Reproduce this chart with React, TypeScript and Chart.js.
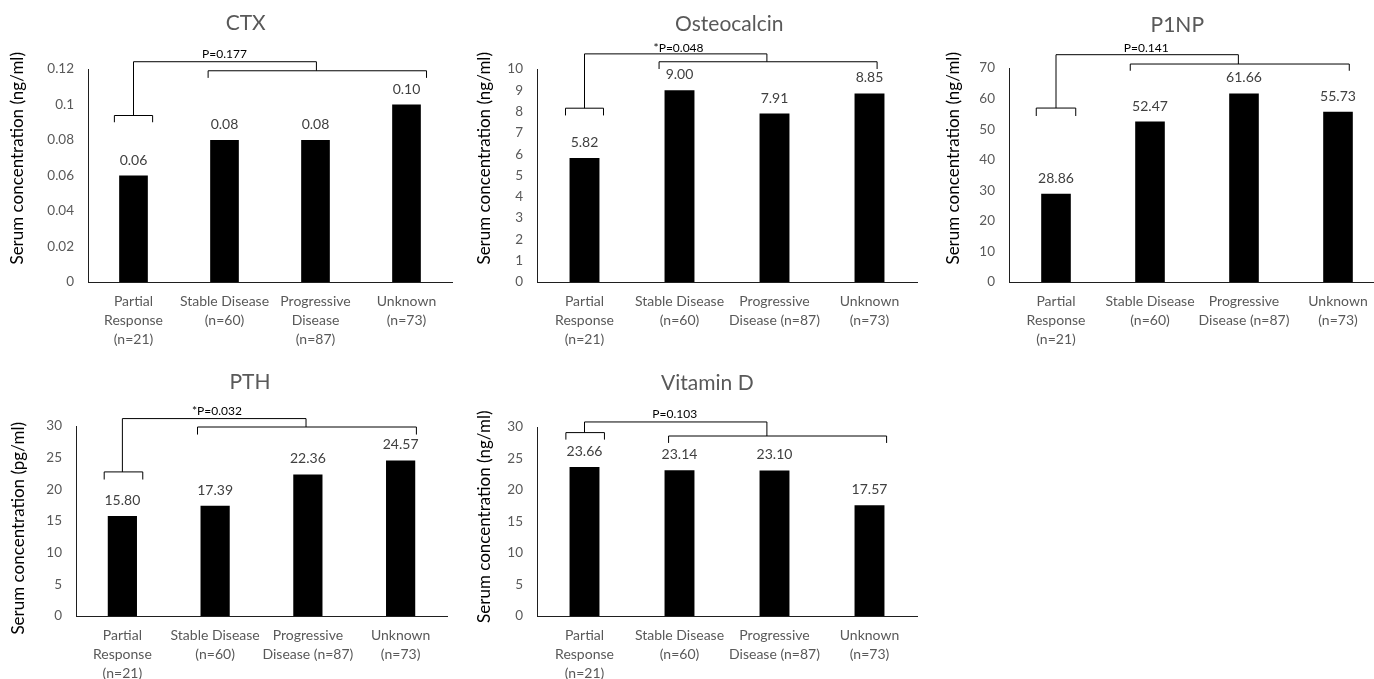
import React, { useEffect, useRef } from "react";
import { Chart, registerables } from "chart.js";

Chart.register(...registerables);

const FONT = "Lato, 'Open Sans', sans-serif";

// ---- categories ----
const categories = [
  ["Partial", "Response", "(n=21)"],
  ["Stable Disease", "(n=60)"],
  ["Progressive", "Disease (n=87)"],
  ["Unknown", "(n=73)"],
];
const categoriesNarrow = [
  ["Partial", "Response", "(n=21)"],
  ["Stable Disease", "(n=60)"],
  ["Progressive", "Disease", "(n=87)"],
  ["Unknown", "(n=73)"],
];

// ---- series values ----
const ctxValues = [0.06, 0.08, 0.08, 0.1];
const osteocalcinValues = [5.82, 9.0, 7.91, 8.85];
const p1npValues = [28.86, 52.47, 61.66, 55.73];
const pthValues = [15.8, 17.39, 22.36, 24.57];
const vitaminDValues = [23.66, 23.14, 23.1, 17.57];

// ---- tick labels ----
const ctxTicks = [0, 0.02, 0.04, 0.06, 0.08, 0.1, 0.12];
const osteocalcinTicks = [0, 1, 2, 3, 4, 5, 6, 7, 8, 9, 10];
const p1npTicks = [0, 10, 20, 30, 40, 50, 60, 70];
const pthTicks = [0, 5, 10, 15, 20, 25, 30];
const vitaminDTicks = [0, 5, 10, 15, 20, 25, 30];

// ---- titles ----
const chartTitles = ["CTX", "Osteocalcin", "P1NP", "PTH", "Vitamin D"];
const axisTitles = [
  "Serum concentration (ng/ml)",
  "Serum concentration (ng/ml)",
  "Serum concentration (ng/ml)",
  "Serum concentration (pg/ml)",
  "Serum concentration (ng/ml)",
];
const pLabels = ["P=0.177", "*P=0.048", "P=0.141", "*P=0.032", "P=0.103"];

// ---- significance brackets (category index units / data units) ----
type Bracket = {
  low: [number, number]; lowY: number; lowTick: number;
  top: number; join: number;
  high: [number, number]; highY: number; highTick: number;
  text: [number, number];
};
const ctxBracket: Bracket = { low: [-0.21, 0.21], lowY: 0.0938, lowTick: 0.09, top: 0.1241, join: 2.01, high: [0.82, 3.22], highY: 0.119, highTick: 0.115, text: [1.0, 0.1285] };
const osteoBracket: Bracket = { low: [-0.2, 0.2], lowY: 8.16, lowTick: 7.82, top: 10.71, join: 1.92, high: [0.785, 3.08], highY: 10.34, highTick: 10.0, text: [0.99, 11.0] };
const p1npBracket: Bracket = { low: [-0.21, 0.21], lowY: 56.9, lowTick: 54.3, top: 74.35, join: 1.94, high: [0.79, 3.12], highY: 71.3, highTick: 69.1, text: [0.96, 76.5] };
const pthBracket: Bracket = { low: [-0.196, 0.22], lowY: 22.75, lowTick: 21.55, top: 31.17, join: 1.98, high: [0.81, 3.17], highY: 29.84, highTick: 28.65, text: [1.02, 32.3] };
const vitDBracket: Bracket = { low: [-0.196, 0.21], lowY: 29.11, lowTick: 28.0, top: 30.8, join: 1.92, high: [0.885, 3.18], highY: 28.57, highTick: 27.47, text: [0.95, 32.0] };

// ---- panel layout (page px) ----
type Panel = {
  canvas: [number, number, number, number];
  plot: [number, number, number, number];
  xAxisH: number;
  title: [number, number];
  axisTitle: [number, number];
};
const panels: Panel[] = [
  { canvas: [0, 0, 460, 356], plot: [88, 69, 452, 282], xAxisH: 70, title: [245.7, 23], axisTitle: [18, 158.3] },
  { canvas: [462, 0, 462, 356], plot: [537, 69, 917, 282], xAxisH: 70, title: [729.3, 24], axisTitle: [485, 158.3] },
  { canvas: [926, 0, 460, 356], plot: [1009, 68, 1385, 282], xAxisH: 70, title: [1177.3, 25], axisTitle: [953.3, 158.3] },
  { canvas: [0, 356, 460, 323], plot: [76, 426, 447, 616], xAxisH: 63, title: [250, 382.3], axisTitle: [18.3, 528.3] },
  { canvas: [462, 356, 462, 323], plot: [537, 427, 917, 616], xAxisH: 63, title: [707.3, 383.3], axisTitle: [485, 516.7] },
];

const specs = [
  { labels: categoriesNarrow, values: ctxValues, ticks: ctxTicks, bracket: ctxBracket },
  { labels: categories, values: osteocalcinValues, ticks: osteocalcinTicks, bracket: osteoBracket },
  { labels: categories, values: p1npValues, ticks: p1npTicks, bracket: p1npBracket },
  { labels: categories, values: pthValues, ticks: pthTicks, bracket: pthBracket },
  { labels: categories, values: vitaminDValues, ticks: vitaminDTicks, bracket: vitDBracket },
];

const Y_AXIS_W = 60;

function PanelChart({ index }: { index: number }) {
  const ref = useRef<HTMLCanvasElement | null>(null);
  const panel = panels[index];
  const spec = specs[index];
  const [cx, cy, cw, ch] = panel.canvas;

  useEffect(() => {
    if (!ref.current) return;
    const [l, t, r, b] = panel.plot;
    const padding = {
      left: l - cx - Y_AXIS_W,
      top: t - cy,
      right: cx + cw - r,
      bottom: Math.max(0, cy + ch - b - panel.xAxisH),
    };

    const annotate = {
      id: "annotate" + index,
      afterDatasetsDraw(chart: any) {
        const c = chart.ctx;
        const xs = chart.scales.x;
        const ys = chart.scales.y;
        const X = (v: number) => xs.getPixelForValue(v);
        const Y = (v: number) => ys.getPixelForValue(v);
        c.save();
        // value labels
        c.fillStyle = "#404040";
        c.font = `14px ${FONT}`;
        c.textAlign = "center";
        c.textBaseline = "alphabetic";
        const meta = chart.getDatasetMeta(0);
        meta.data.forEach((bar: any, i: number) => {
          c.fillText(spec.values[i].toFixed(2), bar.x, bar.y - 11);
        });
        // brackets
        const br = spec.bracket;
        c.strokeStyle = "#000";
        c.lineWidth = 1;
        c.beginPath();
        c.moveTo(X(br.low[0]), Y(br.lowTick));
        c.lineTo(X(br.low[0]), Y(br.lowY));
        c.lineTo(X(br.low[1]), Y(br.lowY));
        c.lineTo(X(br.low[1]), Y(br.lowTick));
        c.moveTo(X(0), Y(br.lowY));
        c.lineTo(X(0), Y(br.top));
        c.lineTo(X(br.join), Y(br.top));
        c.lineTo(X(br.join), Y(br.highY));
        c.moveTo(X(br.high[0]), Y(br.highTick));
        c.lineTo(X(br.high[0]), Y(br.highY));
        c.lineTo(X(br.high[1]), Y(br.highY));
        c.lineTo(X(br.high[1]), Y(br.highTick));
        c.stroke();
        c.fillStyle = "#000";
        c.font = `12px ${FONT}`;
        c.textBaseline = "middle";
        c.fillText(pLabels[index], X(br.text[0]), Y(br.text[1]));
        // chart title
        c.fillStyle = "#595959";
        c.font = `21px ${FONT}`;
        c.fillText(chartTitles[index], panel.title[0] - cx, panel.title[1] - cy);
        // axis title
        c.translate(panel.axisTitle[0] - cx, panel.axisTitle[1] - cy);
        c.rotate(-Math.PI / 2);
        c.fillStyle = "#000";
        c.font = `17px ${FONT}`;
        c.fillText(axisTitles[index], 0, 0);
        c.restore();
      },
    };

    const chart = new Chart(ref.current, {
      type: "bar",
      data: {
        labels: spec.labels as any,
        datasets: [
          {
            data: spec.values,
            backgroundColor: "#000000",
            borderWidth: 0,
            barPercentage: 0.315,
            categoryPercentage: 1,
          },
        ],
      },
      options: {
        responsive: false,
        animation: false,
        devicePixelRatio: 1,
        layout: { padding },
        plugins: {
          legend: { display: false },
          tooltip: { enabled: false },
          title: { display: false },
        },
        scales: {
          x: {
            offset: true,
            grid: { display: false, drawTicks: false },
            border: { display: true, color: "#1f1f1f", width: 1 },
            ticks: {
              color: "#595959",
              font: { family: FONT, size: 14, lineHeight: 1.36 },
              padding: 10,
              maxRotation: 0,
              minRotation: 0,
              autoSkip: false,
            },
            afterFit: (s: any) => {
              s.height = panel.xAxisH;
            },
          },
          y: {
            min: spec.ticks[0],
            max: spec.ticks[spec.ticks.length - 1],
            grid: { display: false, drawTicks: false },
            border: { display: true, color: "#1f1f1f", width: 1 },
            ticks: {
              color: "#595959",
              font: { family: FONT, size: 13.5 },
              padding: 14,
              callback: (v: any) => String(v),
            },
            afterBuildTicks: (s: any) => {
              s.ticks = spec.ticks.map((v) => ({ value: v }));
            },
            afterFit: (s: any) => {
              s.width = Y_AXIS_W;
            },
          },
        },
      },
      plugins: [annotate],
    });
    return () => chart.destroy();
  }, [index]);

  return (
    <canvas
      ref={ref}
      width={cw}
      height={ch}
      style={{ position: "absolute", left: cx, top: cy, width: cw, height: ch }}
    />
  );
}

export default function App() {
  return (
    <div
      style={{
        position: "fixed",
        left: 0,
        top: 0,
        width: 1374,
        height: 679,
        overflow: "hidden",
        background: "#ffffff",
      }}
    >
      {panels.map((_, i) => (
        <PanelChart key={i} index={i} />
      ))}
    </div>
  );
}
